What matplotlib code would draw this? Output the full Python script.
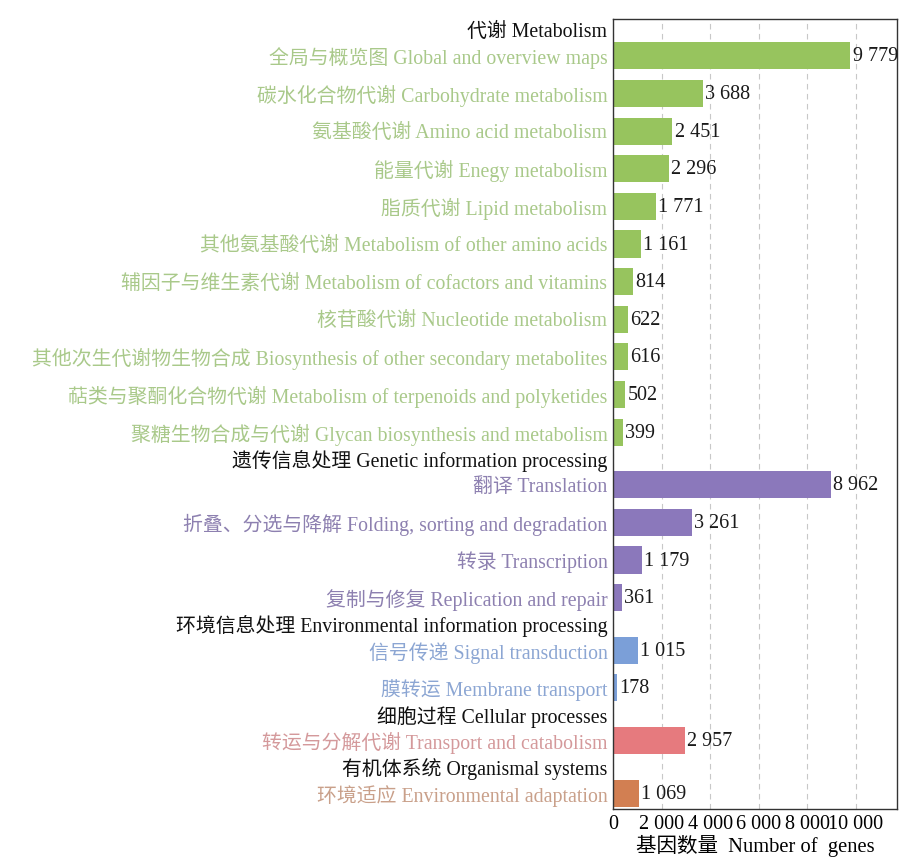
import numpy as np
import matplotlib
matplotlib.use("Agg")
import matplotlib.pyplot as plt

plt.rcParams['font.family'] = ['Liberation Serif', 'Noto Sans CJK SC']

# group headers and their members
groups = ['代谢 Metabolism',
          '遗传信息处理 Genetic information processing',
          '环境信息处理 Environmental information processing',
          '细胞过程 Cellular processes',
          '有机体系统 Organismal systems']

metab_labels = ['全局与概览图 Global and overview maps',
                '碳水化合物代谢 Carbohydrate metabolism',
                '氨基酸代谢 Amino acid metabolism',
                '能量代谢 Enegy metabolism',
                '脂质代谢 Lipid metabolism',
                '其他氨基酸代谢 Metabolism of other amino acids',
                '辅因子与维生素代谢 Metabolism of cofactors and vitamins',
                '核苷酸代谢 Nucleotide metabolism',
                '其他次生代谢物生物合成 Biosynthesis of other secondary metabolites',
                '萜类与聚酮化合物代谢 Metabolism of terpenoids and polyketides',
                '聚糖生物合成与代谢 Glycan biosynthesis and metabolism']
metab_values = [9779, 3688, 2451, 2296, 1771, 1161, 814, 622, 616, 502, 399]

genetic_labels = ['翻译 Translation',
                  '折叠、分选与降解 Folding, sorting and degradation',
                  '转录 Transcription',
                  '复制与修复 Replication and repair']
genetic_values = [8962, 3261, 1179, 361]

env_labels = ['信号传递 Signal transduction',
              '膜转运 Membrane transport']
env_values = [1015, 178]

cell_labels = ['转运与分解代谢 Transport and catabolism']
cell_values = [2957]

org_labels = ['环境适应 Environmental adaptation']
org_values = [1069]

bar_colors = ['#97c45e', '#8b78bb', '#7b9fd8', '#e67a7e', '#d27f52']
text_colors = ['#a9c98a', '#8d80b0', '#8ca6d3', '#d4999b', '#c9a08a']

all_labels = [metab_labels, genetic_labels, env_labels, cell_labels, org_labels]
all_values = [metab_values, genetic_values, env_values, cell_values, org_values]

fig = plt.figure(figsize=(9.21, 8.68), dpi=100)
ax = fig.add_axes([613 / 921, 1 - 809 / 868, (897 - 613) / 921, (809 - 19) / 868])

tick_pos, tick_text, tick_col = [], [], []
y = 0.0
for gi, (head, labs, vals) in enumerate(zip(groups, all_labels, all_values)):
    # header row sits between groups, without a bar
    tick_pos.append(y - 0.7)
    tick_text.append(head)
    tick_col.append('#111111')
    for lab, v in zip(labs, vals):
        ax.barh(y, v, height=0.72, color=bar_colors[gi])
        ax.text(v + 90, y + 0.03, f'{v:,}'.replace(',', ' '), va='center', ha='left',
                fontsize=14.5, color='#1a1a1a')
        tick_pos.append(y)
        tick_text.append(lab)
        tick_col.append(text_colors[gi])
        y += 1
    y += 0.4

last = y - 1.4
ax.set_ylim(last + 0.42, -0.98)
ax.set_xlim(0, 11700)
ax.set_yticks(tick_pos)
ax.set_yticklabels(tick_text, fontsize=14.3)
for tl, c in zip(ax.get_yticklabels(), tick_col):
    tl.set_color(c)
ax.tick_params(axis='y', length=0, pad=4)

ax.set_xticks(np.arange(0, 10001, 2000))
ax.set_xticklabels([f'{t:,}'.replace(',', ' ') for t in range(0, 10001, 2000)], fontsize=14.5)
ax.tick_params(axis='x', length=0, pad=4)
ax.set_xlabel('基因数量  Number of  genes', fontsize=14.8, labelpad=1)
ax.xaxis.grid(True, linestyle=(0, (5, 4)), color='#c8c8c8', linewidth=0.8)
ax.set_axisbelow(True)
for sp in ax.spines.values():
    sp.set_color('#333333')
    sp.set_linewidth(1.0)

fig.savefig('out.png', dpi=100)
